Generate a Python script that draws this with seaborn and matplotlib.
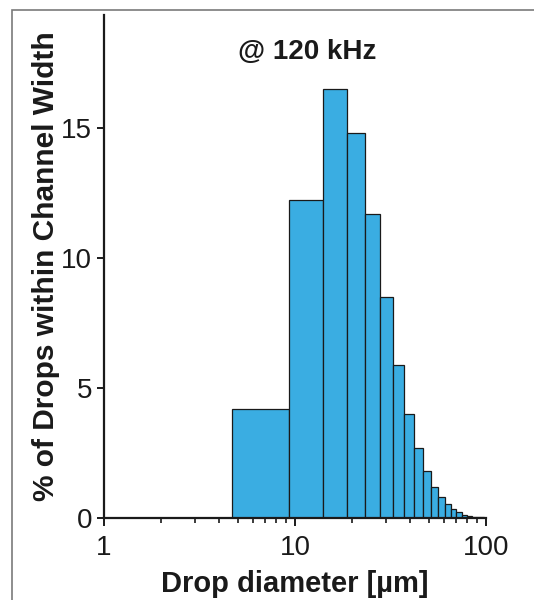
import matplotlib
matplotlib.use("Agg")
import matplotlib.pyplot as plt
import seaborn as sns
import pandas as pd
from matplotlib.patches import Rectangle

# Bin edges (µm) and bar heights (% of drops)
bordes_bins = [4.67, 9.33, 14.0, 18.67, 23.33, 28.0, 32.67, 37.33, 42.0, 46.67,
               51.33, 56.0, 60.67, 65.33, 70.0, 74.67, 79.33, 84.0, 88.67, 93.33, 98.0]
porcentajes = [4.2, 12.25, 16.5, 14.8, 11.7, 8.5, 5.9, 4.0, 2.7, 1.8,
               1.2, 0.8, 0.53, 0.34, 0.22, 0.13, 0.08, 0.05, 0.03, 0.02]
marcas_y = [0, 5, 10, 15]
marcas_x = [1, 10, 100]
etiquetas_x = ["1", "10", "100"]

centros = [(a + b) / 2 for a, b in zip(bordes_bins[:-1], bordes_bins[1:])]
df = pd.DataFrame({"diametro": centros, "porcentaje": porcentajes})

sns.set_theme(style="white")
plt.rcParams["font.family"] = ["Liberation Sans", "DejaVu Sans"]

fig = plt.figure(figsize=(5.34, 6.0), dpi=100)
ax = fig.add_axes([104 / 534, 1 - 518 / 600, (486 - 104) / 534, (518 - 15) / 600])

sns.histplot(data=df, x="diametro", weights="porcentaje", bins=bordes_bins,
             color="#3aade2", alpha=1.0, edgecolor="#1a1a1a", linewidth=0.9, ax=ax)

ax.set_xscale("log")
ax.set_xlim(1, 100)
ax.set_ylim(0, 19.35)
ax.set_xticks(marcas_x)
ax.set_xticklabels(etiquetas_x)
ax.set_yticks(marcas_y)

for lado in ["top", "right"]:
    ax.spines[lado].set_visible(False)
for lado in ["left", "bottom"]:
    ax.spines[lado].set_color("#1a1a1a")
    ax.spines[lado].set_linewidth(1.6)

ax.tick_params(axis="both", which="major", direction="out", width=1.4,
               color="#1a1a1a", labelsize=20, labelcolor="#1a1a1a",
               bottom=True, left=True)
ax.tick_params(axis="y", which="major", length=5, pad=3.5)
ax.tick_params(axis="x", which="major", length=6, pad=6)
ax.tick_params(axis="x", which="minor", direction="out", length=3.5, width=1.2,
               color="#1a1a1a", bottom=True)

ax.set_xlabel("Drop diameter [µm]", fontsize=21, fontweight="bold", color="#1a1a1a", labelpad=7)
ax.set_ylabel("% of Drops within Channel Width", fontsize=21.5, fontweight="bold",
              color="#1a1a1a", labelpad=0.5)
ax.text(0.531, 0.926, "@ 120 kHz", transform=ax.transAxes, ha="center", va="center",
        fontsize=20, fontweight="bold", color="#1a1a1a")

fig.patches.append(Rectangle((12 / 534, -0.05), 1.0, 1 - 10 / 600 + 0.05,
                             transform=fig.transFigure, fill=False,
                             edgecolor="#7a7a7a", linewidth=1.2))

fig.savefig("out.png", dpi=100)
